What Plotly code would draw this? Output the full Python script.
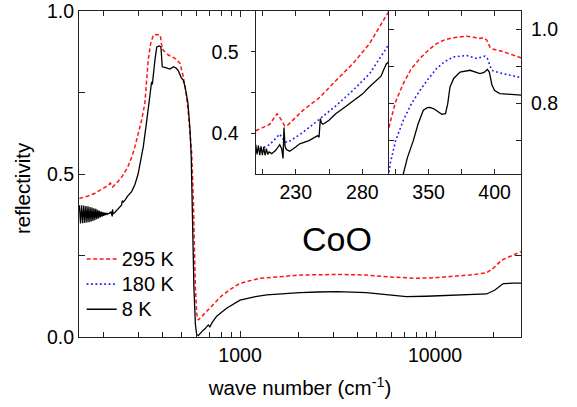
import plotly.graph_objects as go

# ---------------- main panel data ----------------
wn_295 = [150, 165, 180, 195, 205, 211, 216, 219, 222, 235, 250, 265, 280, 289, 301, 313, 325, 338, 348,
          359, 375, 390, 395, 403, 429, 463, 492, 511, 530, 543, 565, 576, 590, 600, 611, 630, 660, 714,
          800, 900, 1000, 1265, 1600, 2028, 3170, 4440, 6000, 8010, 10000, 11940, 15000, 18400, 19900,
          22000, 25000, 27600]
r_295 = [0.425, 0.432, 0.441, 0.452, 0.460, 0.465, 0.472, 0.465, 0.460, 0.475, 0.495, 0.520, 0.556, 0.584,
         0.625, 0.666, 0.717, 0.850, 0.900, 0.926, 0.928, 0.926, 0.900, 0.880, 0.865, 0.855, 0.840, 0.800,
         0.745, 0.686, 0.563, 0.420, 0.150, 0.070, 0.052, 0.060, 0.072, 0.093, 0.125, 0.148, 0.165, 0.180,
         0.186, 0.190, 0.192, 0.190, 0.184, 0.180, 0.182, 0.185, 0.190, 0.197, 0.211, 0.236, 0.250, 0.262]

wn_8 = [150, 152, 154, 156, 158, 160, 162, 164, 166, 168, 170, 172, 174, 176, 178, 180, 182, 184, 186, 188,
        190, 192, 194, 196, 198, 200, 202, 204, 206, 208, 210, 212,
        214, 218, 221, 222, 223, 228, 235, 247, 249, 252, 257, 265, 278, 289, 300, 310, 319, 330, 338, 348,
        352, 355, 358, 366, 374, 385, 393, 396, 399, 415, 437, 455, 470, 482, 500, 511, 522, 540, 554, 562,
        569, 580, 590, 599, 611, 625, 647, 661, 687, 700, 720, 759, 853, 1000, 1200, 1370, 1700, 2028, 2500,
        3170, 4440, 5500, 7130, 9000, 11940, 15000, 18400, 20300, 22400, 25000, 27600]
r_8 = [0.404, 0.348, 0.404, 0.349, 0.403, 0.350, 0.402, 0.351, 0.401, 0.352, 0.399, 0.354, 0.397, 0.356,
       0.395, 0.358, 0.393, 0.361, 0.390, 0.364, 0.387, 0.367, 0.385, 0.369, 0.383, 0.372, 0.381, 0.374,
       0.380, 0.376, 0.379, 0.378,
       0.380, 0.383, 0.370, 0.392, 0.378, 0.382, 0.390, 0.405, 0.418, 0.414, 0.420, 0.432, 0.446, 0.468,
       0.500, 0.540, 0.584, 0.650, 0.700, 0.765, 0.783, 0.775, 0.800, 0.850, 0.890, 0.893, 0.890, 0.860,
       0.829, 0.826, 0.822, 0.829, 0.825, 0.817, 0.795, 0.788, 0.768, 0.720, 0.635, 0.550, 0.360, 0.150,
       0.040, 0.008, 0.004, 0.012, 0.021, 0.025, 0.037, 0.031, 0.045, 0.064, 0.088, 0.113, 0.124, 0.129,
       0.134, 0.136, 0.138, 0.139, 0.136, 0.131, 0.124, 0.125, 0.127, 0.129, 0.132, 0.144, 0.164, 0.165,
       0.165]

# ---------------- inset (a) data ----------------
a_wn_295 = [200, 205, 210.5, 216, 219, 221.7, 224, 235.4, 248, 260.4, 272.9, 285.4, 297.9, 300]
a_r_295 = [0.403, 0.407, 0.411, 0.424, 0.417, 0.409, 0.410, 0.428, 0.444, 0.465, 0.4855, 0.510, 0.543, 0.550]

a_wn_180 = [200, 205, 210.5, 218, 221.7, 224, 235.4, 248, 260.4, 272.9, 285.4, 297.9, 300]
a_r_180 = [0.378, 0.382, 0.386, 0.399, 0.390, 0.3887, 0.401, 0.4175, 0.434, 0.4525, 0.473, 0.504, 0.510]

a_wn_8 = [200, 201, 202, 203, 204, 205, 206, 207, 208, 209, 210, 212, 215, 217, 218, 219.5, 220.5, 221.2,
          222, 223, 225.5, 230, 233, 240, 246.5, 247.5, 248.5, 249.2, 250.5, 255, 260, 266, 273, 280, 285,
          290, 294, 296, 298, 300]
a_r_8 = [0.386, 0.374, 0.385, 0.373, 0.384, 0.373, 0.383, 0.373, 0.381, 0.374, 0.377, 0.375, 0.379, 0.383,
         0.386, 0.381, 0.369, 0.407, 0.384, 0.380, 0.378, 0.383, 0.387, 0.391, 0.397, 0.395, 0.418, 0.413,
         0.411, 0.416, 0.424, 0.431, 0.440, 0.448, 0.4565, 0.464, 0.470, 0.478, 0.485, 0.488]

# ---------------- inset (b) data ----------------
b_wn_295 = [320, 320.8, 325, 330.8, 337, 343.5, 350, 356.1, 362, 368.7, 378.9, 388.9, 391.4, 394, 396.5,
            398, 406.6, 420]
b_r_295 = [0.735, 0.749, 0.805, 0.854, 0.895, 0.922, 0.945, 0.962, 0.972, 0.978, 0.982, 0.976, 0.978,
           0.972, 0.952, 0.948, 0.940, 0.924]

b_wn_180 = [320, 320.8, 325, 330.8, 337, 343.5, 350, 356.1, 362, 368.7, 378.9, 386.4, 392.7, 394.5, 397.8,
            404, 420]
b_r_180 = [0.615, 0.637, 0.700, 0.755, 0.800, 0.836, 0.868, 0.895, 0.913, 0.926, 0.930, 0.922, 0.928,
           0.922, 0.890, 0.883, 0.870]

b_wn_8 = [329, 330.8, 334, 338.4, 342, 346, 349, 351, 354, 358, 360, 362.8, 364.5, 366.2, 369, 373.8,
          381.4, 388.9, 392, 394.5, 396, 398, 400, 404, 410, 420]
b_r_8 = [0.570, 0.610, 0.655, 0.700, 0.745, 0.782, 0.789, 0.790, 0.786, 0.775, 0.771, 0.773, 0.800, 0.845,
         0.868, 0.885, 0.890, 0.881, 0.884, 0.892, 0.885, 0.850, 0.835, 0.827, 0.825, 0.823]

# ---------------- ticks / labels ----------------
main_x_major = [1000, 10000]
main_x_labels = ["1000", "10000"]
main_x_minor = [200, 300, 400, 500, 600, 700, 800, 900, 2000, 3000, 4000, 5000, 6000, 7000, 8000, 9000, 20000]
main_top_major = [1000]
main_top_minor = [200, 300, 400, 500, 600, 700, 800, 900]
main_y_major = [0, 0.5, 1.0]
main_y_labels = ["0.0", "0.5", "1.0"]
main_y_minor = [0.25, 0.75]
main_right_ticks = [0.25]
a_x_major = [230, 280]
a_x_labels = ["230", "280"]
a_x_minor = [205, 255]
a_y_major = [0.4, 0.5]
a_y_labels = ["0.4", "0.5"]
a_y_minor = [0.45]
b_x_major = [350, 400]
b_x_labels = ["350", "400"]
b_x_minor = [325, 375]
b_y_major = [0.8, 1.0]
b_y_labels = ["0.8", "1.0"]
b_y_minor = [0.7, 0.9]
series_names = ["295 K", "180 K", "8 K"]

RED = "#ff1414"
BLUE = "#1a1aff"
BLACK = "#000000"
DASH_RED = "4px,2.5px"
DOT_BLUE = "1.8px,2.6px"
FONT = "Liberation Sans, Arial, Helvetica, sans-serif"
AX = "#222"
TICK_SIZE = 19.5
TITLE_SIZE = 20.5


def legend_name(s):
    return "<span style='font-size:20px'>" + s + "</span>"


fig = go.Figure()

# main panel
fig.add_trace(go.Scatter(x=wn_295, y=r_295, mode="lines", line=dict(color=RED, width=1.5, dash=DASH_RED),
                         showlegend=False, xaxis="x", yaxis="y"))
fig.add_trace(go.Scatter(x=wn_8, y=r_8, mode="lines", line=dict(color=BLACK, width=1.3),
                         showlegend=False, xaxis="x", yaxis="y"))

# inset (a)  (carries the legend)
fig.add_trace(go.Scatter(x=a_wn_295, y=a_r_295, mode="lines", name=legend_name(series_names[0]),
                         line=dict(color=RED, width=1.5, dash=DASH_RED), xaxis="x2", yaxis="y2"))
fig.add_trace(go.Scatter(x=a_wn_180, y=a_r_180, mode="lines", name=legend_name(series_names[1]),
                         line=dict(color=BLUE, width=1.6, dash=DOT_BLUE), xaxis="x2", yaxis="y2"))
fig.add_trace(go.Scatter(x=a_wn_8, y=a_r_8, mode="lines", name=legend_name(series_names[2]),
                         line=dict(color=BLACK, width=1.3), xaxis="x2", yaxis="y2"))

# inset (b)
fig.add_trace(go.Scatter(x=b_wn_295, y=b_r_295, mode="lines", showlegend=False,
                         line=dict(color=RED, width=1.5, dash=DASH_RED), xaxis="x3", yaxis="y3"))
fig.add_trace(go.Scatter(x=b_wn_180, y=b_r_180, mode="lines", showlegend=False,
                         line=dict(color=BLUE, width=1.6, dash=DOT_BLUE), xaxis="x3", yaxis="y3"))
fig.add_trace(go.Scatter(x=b_wn_8, y=b_r_8, mode="lines", showlegend=False,
                         line=dict(color=BLACK, width=1.3), xaxis="x3", yaxis="y3"))

# helper trace so the top / right mirror axes of the main panel are drawn
fig.add_trace(go.Scatter(x=[None], y=[None], mode="lines", showlegend=False, hoverinfo="skip",
                         xaxis="x4", yaxis="y4"))

axis_common = dict(showgrid=False, zeroline=False, showline=True, linecolor=AX, linewidth=1.2,
                   tickcolor=AX, tickwidth=1.2, automargin=False, ticklabeloverflow="allow",
                   tickfont=dict(size=TICK_SIZE, color="black", family=FONT))


def minor(vals, length, direction="inside"):
    return dict(tickmode="array", tickvals=vals, ticks=direction, ticklen=length, tickcolor=AX,
                tickwidth=1.2, showgrid=False)


fig.update_layout(
    width=577, height=407, autosize=False,
    margin=dict(l=79, r=56, t=11, b=70),
    paper_bgcolor="white", plot_bgcolor="white",
    font=dict(family=FONT, size=18, color="black"),
    xaxis=dict(type="log", range=[2.174, 4.441], domain=[0, 1], anchor="y",
               tickmode="array", tickvals=main_x_major, ticktext=main_x_labels,
               ticks="inside", ticklen=6, mirror=False, minor=minor(main_x_minor, 5),
               title=dict(text="wave number (cm<sup>-1</sup>)", font=dict(size=TITLE_SIZE), standoff=16),
               **axis_common),
    yaxis=dict(range=[0, 1], domain=[0, 1], anchor="x",
               tickmode="array", tickvals=main_y_major, ticktext=main_y_labels,
               ticks="inside", ticklen=6, mirror=False, minor=minor(main_y_minor, 6),
               **axis_common),
    xaxis4=dict(type="log", range=[2.174, 4.441], overlaying="x", side="top", anchor="y",
                tickmode="array", tickvals=main_top_major, ticks="inside", ticklen=6,
                minor=minor(main_top_minor, 5), showticklabels=False, **axis_common),
    yaxis4=dict(range=[0, 1], overlaying="y", side="right", anchor="x",
                tickmode="array", tickvals=main_right_ticks, ticks="inside", ticklen=6,
                showticklabels=False, **axis_common),
    xaxis2=dict(range=[200, 300], domain=[0.3998, 0.7014], anchor="y2",
                tickmode="array", tickvals=a_x_major, ticktext=a_x_labels,
                ticks="inside", ticklen=5, mirror="ticks",
                minor=minor(a_x_minor, 5), **axis_common),
    yaxis2=dict(range=[0.35, 0.55], domain=[0.5, 1.0], anchor="x2",
                tickmode="array", tickvals=a_y_major, ticktext=a_y_labels,
                ticks="outside", ticklen=4, mirror=True,
                minor=minor(a_y_minor, 4, "outside"), ticklabelstandoff=8, **axis_common),
    xaxis3=dict(range=[320, 420], domain=[0.7014, 1.0], anchor="y3",
                tickmode="array", tickvals=b_x_major, ticktext=b_x_labels,
                ticks="inside", ticklen=5, mirror="ticks",
                minor=minor(b_x_minor, 5), **axis_common),
    yaxis3=dict(range=[0.61, 1.05], domain=[0.5, 1.0], anchor="x3", side="right",
                tickmode="array", tickvals=b_y_major, ticktext=b_y_labels,
                ticks="inside", ticklen=5, mirror="ticks",
                minor=minor(b_y_minor, 5), ticklabelstandoff=5, **axis_common),
    legend=dict(x=0.006, y=0.293, xanchor="left", yanchor="top", bgcolor="rgba(0,0,0,0)",
                font=dict(size=17, family=FONT), itemwidth=30, tracegroupgap=0,
                traceorder="normal"),
    annotations=[
        dict(text="CoO", x=0.584, y=0.300, xref="paper", yref="paper", xanchor="center",
             yanchor="middle", showarrow=False, font=dict(size=34, family=FONT, color="black")),
        dict(text="reflectivity", x=-0.129, y=0.457, xref="paper", yref="paper", xanchor="center",
             yanchor="middle", textangle=-90, showarrow=False,
             font=dict(size=TITLE_SIZE, family=FONT, color="black")),
    ],
)

# remove the default 8px page margin so the figure sits at the window origin
fig.write_html("out.html", config={"displayModeBar": False},
               post_script="document.body.style.margin='0px';")
